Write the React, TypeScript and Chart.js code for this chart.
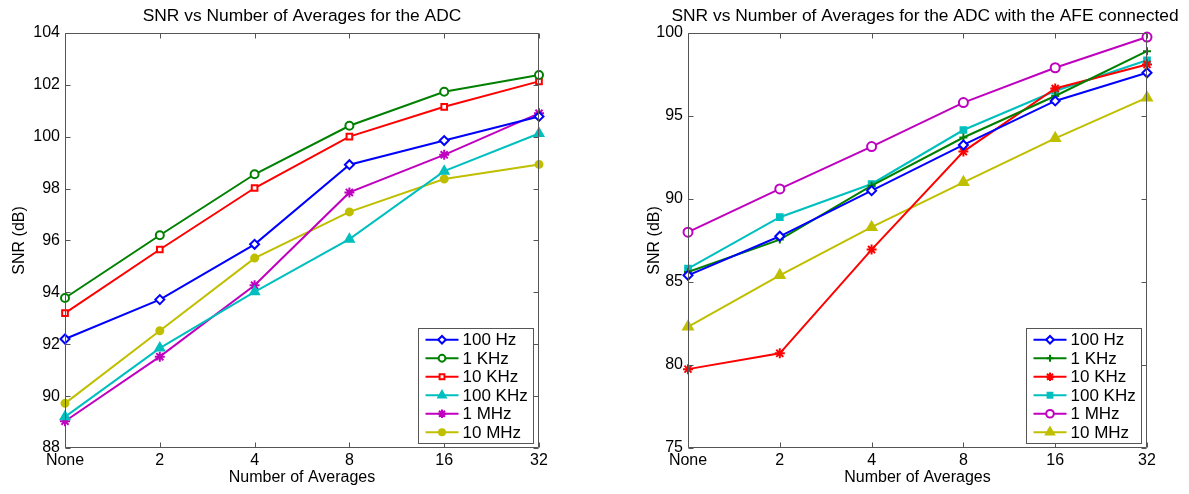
import React, { useEffect, useRef } from "react";
import { Chart, registerables } from "chart.js";
import { drawPoint } from "chart.js/helpers";

Chart.register(...registerables);

// ---------- data ----------
const categories = ["None", "2", "4", "8", "16", "32"];
const seriesNames = ["100 Hz", "1 KHz", "10 KHz", "100 KHz", "1 MHz", "10 MHz"];

// Left: ADC alone
const adc100Hz = [92.2, 93.72, 95.85, 98.92, 99.85, 100.78];
const adc1KHz = [93.78, 96.2, 98.55, 100.42, 101.73, 102.38];
const adc10KHz = [93.2, 95.65, 98.02, 100.0, 101.15, 102.13];
const adc100KHz = [89.2, 91.85, 94.02, 96.05, 98.67, 100.12];
const adc1MHz = [89.03, 91.52, 94.27, 97.85, 99.3, 100.9];
const adc10MHz = [89.72, 92.52, 95.32, 97.1, 98.37, 98.93];

// Right: ADC with AFE connected
const afe100Hz = [85.4, 87.75, 90.5, 93.25, 95.9, 97.6];
const afe1KHz = [85.6, 87.55, 90.8, 93.7, 96.2, 98.9];
const afe10KHz = [79.75, 80.7, 86.95, 92.85, 96.65, 98.1];
const afe100KHz = [85.8, 88.9, 90.9, 94.15, 96.5, 98.35];
const afe1MHz = [88.0, 90.6, 93.15, 95.8, 97.9, 99.75];
const afe10MHz = [82.3, 85.4, 88.3, 91.0, 93.65, 96.1];

const leftYMin = 88;
const leftYMax = 104;
const leftYStep = 2;
const rightYMin = 75;
const rightYMax = 100;
const rightYStep = 5;

const leftTitle = "SNR vs Number of Averages for the ADC";
const rightTitle = "SNR vs Number of Averages for the ADC with the AFE connected";
const xTitle = "Number of Averages";
const yTitle = "SNR (dB)";

// ---------- styles ----------
const FONT = "'Liberation Sans', Arial, Helvetica, sans-serif";
const BLUE = "#0000ff";
const GREEN = "#008000";
const RED = "#ff0000";
const CYAN = "#00bfbf";
const MAGENTA = "#bf00bf";
const YELLOW = "#bfbf00";
const FRAME = "#555555";

type Marker = { style: string; radius: number; fill: boolean };

const seriesColors = [BLUE, GREEN, RED, CYAN, MAGENTA, YELLOW];
const leftMarkers: Marker[] = [
  { style: "rectRot", radius: 4.5, fill: false },
  { style: "circle", radius: 4, fill: false },
  { style: "rect", radius: 4, fill: false },
  { style: "triangle", radius: 5, fill: true },
  { style: "star", radius: 5, fill: true },
  { style: "circle", radius: 3.5, fill: true },
];
const rightMarkers: Marker[] = [
  { style: "rectRot", radius: 4.5, fill: false },
  { style: "cross", radius: 4, fill: true },
  { style: "star", radius: 5, fill: true },
  { style: "rect", radius: 4, fill: true },
  { style: "circle", radius: 4.5, fill: false },
  { style: "triangle", radius: 5.5, fill: true },
];

const framePlugin = {
  id: "matlabFrame",
  afterDraw(chart: any) {
    const ctx = chart.ctx as CanvasRenderingContext2D;
    const { left, right, top, bottom } = chart.chartArea;
    const L = Math.round(left) + 0.5;
    const R = Math.round(right) - 0.5;
    const T = Math.round(top) + 0.5;
    const B = Math.round(bottom) - 0.5;
    const tl = 5;
    ctx.save();
    ctx.strokeStyle = FRAME;
    ctx.lineWidth = 1;
    ctx.beginPath();
    ctx.rect(L, T, R - L, B - T);
    const ys = chart.scales.y;
    ys.ticks.forEach((t: any) => {
      const y = Math.round(ys.getPixelForValue(t.value)) + 0.5;
      ctx.moveTo(L, y);
      ctx.lineTo(L + tl, y);
      ctx.moveTo(R, y);
      ctx.lineTo(R - tl, y);
    });
    const xs = chart.scales.x;
    xs.ticks.forEach((_t: any, i: number) => {
      const x = Math.round(xs.getPixelForTick(i)) + 0.5;
      ctx.moveTo(x, B);
      ctx.lineTo(x, B - tl);
      ctx.moveTo(x, T);
      ctx.lineTo(x, T + tl);
    });
    ctx.stroke();

    // legend box (lower right, inside axes)
    const dsets = chart.data.datasets;
    ctx.font = `17px ${FONT}`;
    let maxW = 0;
    dsets.forEach((d: any) => {
      maxW = Math.max(maxW, ctx.measureText(d.label).width);
    });
    const rowH = 18.5;
    const boxW = Math.round(7 + 33 + 4 + maxW + 6);
    const boxH = Math.round(dsets.length * rowH + 4);
    const x0 = Math.round(right) - 6 - boxW + 0.5;
    const y0 = Math.round(bottom) - 5 - boxH + 0.5;
    ctx.fillStyle = "#ffffff";
    ctx.fillRect(x0, y0, boxW, boxH);
    ctx.strokeStyle = FRAME;
    ctx.strokeRect(x0, y0, boxW, boxH);
    dsets.forEach((d: any, i: number) => {
      const y = y0 + 2 + rowH * (i + 0.5);
      ctx.strokeStyle = d.borderColor;
      ctx.lineWidth = 2;
      ctx.beginPath();
      ctx.moveTo(x0 + 7, y);
      ctx.lineTo(x0 + 40, y);
      ctx.stroke();
      ctx.fillStyle = d.pointBackgroundColor;
      ctx.strokeStyle = d.borderColor;
      ctx.lineWidth = d.pointBorderWidth;
      drawPoint(ctx, { pointStyle: d.pointStyle, radius: d.pointRadius * 0.85, borderWidth: d.pointBorderWidth, rotation: 0 } as any, x0 + 23.5, y);
      ctx.fillStyle = "#000000";
      ctx.textAlign = "left";
      ctx.textBaseline = "middle";
      ctx.fillText(d.label, x0 + 44, y + 1);
    });
    ctx.restore();
  },
};

function makeDatasets(values: number[][], markers: Marker[]) {
  return values.map((v, i) => ({
    label: seriesNames[i],
    data: v,
    borderColor: seriesColors[i],
    backgroundColor: seriesColors[i],
    borderWidth: 2,
    pointStyle: markers[i].style,
    pointRadius: markers[i].radius,
    pointBorderWidth: 2,
    pointBorderColor: seriesColors[i],
    pointBackgroundColor: markers[i].fill ? seriesColors[i] : "#ffffff",
    tension: 0,
    clip: false as any,
  }));
}

function buildConfig(opts: {
  title: string;
  values: number[][];
  markers: Marker[];
  yMin: number;
  yMax: number;
  yStep: number;
  rightSpace: number;
  yAxisWidth: number;
  yTitlePad: number;
}): any {
  return {
    type: "line",
    data: {
      labels: categories,
      datasets: makeDatasets(opts.values, opts.markers),
    },
    options: {
      animation: false,
      responsive: false,
      events: [],
      layout: { padding: 0 },
      plugins: {
        legend: { display: false },
        tooltip: { enabled: false },
        title: {
          display: true,
          text: opts.title,
          color: "#000",
          font: { family: FONT, size: 17.4, weight: "normal", lineHeight: 1.2 },
          padding: { top: 6, bottom: 6 },
        },
      },
      scales: {
        x: {
          type: "category",
          offset: false,
          grid: { display: false, drawTicks: false },
          border: { display: false },
          ticks: { color: "#000", font: { family: FONT, size: 16 }, padding: 3, maxRotation: 0, autoSkip: false },
          title: {
            display: true,
            text: xTitle,
            color: "#000",
            font: { family: FONT, size: 16, lineHeight: 1.2 },
            padding: { top: 0, bottom: 7 },
          },
          afterFit: (s: any) => {
            s.height = 46;
          },
        },
        y: {
          min: opts.yMin,
          max: opts.yMax,
          grid: { display: false, drawTicks: false },
          border: { display: false },
          ticks: { stepSize: opts.yStep, color: "#000", font: { family: FONT, size: 16 }, padding: 5 },
          title: {
            display: true,
            text: yTitle,
            color: "#000",
            font: { family: FONT, size: 16, lineHeight: 1.2 },
            padding: { top: opts.yTitlePad, bottom: 0 },
          },
          afterFit: (s: any) => {
            s.width = opts.yAxisWidth;
          },
        },
        // empty spacer on the right so the title centres over the axes box
        yRight: {
          position: "right",
          min: opts.yMin,
          max: opts.yMax,
          grid: { display: false, drawTicks: false },
          border: { display: false },
          ticks: { display: false },
          afterFit: (s: any) => {
            s.width = opts.rightSpace;
          },
        },
      },
    },
    plugins: [framePlugin],
  };
}

function ChartPanel(props: { cfg: any; left: number; width: number }) {
  const ref = useRef<HTMLCanvasElement | null>(null);
  useEffect(() => {
    if (!ref.current) return;
    const chart = new Chart(ref.current, props.cfg);
    return () => chart.destroy();
  }, []);
  return (
    <canvas
      ref={ref}
      width={props.width}
      height={494}
      style={{ position: "absolute", left: props.left, top: 0, width: props.width, height: 494 }}
    />
  );
}

export default function App() {
  // left canvas: 0..604, plot 65..539
  const leftCfg = buildConfig({
    title: leftTitle,
    values: [adc100Hz, adc1KHz, adc10KHz, adc100KHz, adc1MHz, adc10MHz],
    markers: leftMarkers,
    yMin: leftYMin,
    yMax: leftYMax,
    yStep: leftYStep,
    rightSpace: 65,
    yAxisWidth: 65,
    yTitlePad: 10,
  });
  // right canvas: 595..1255, plot 688..1147
  const rightCfg = buildConfig({
    title: rightTitle,
    values: [afe100Hz, afe1KHz, afe10KHz, afe100KHz, afe1MHz, afe10MHz],
    markers: rightMarkers,
    yMin: rightYMin,
    yMax: rightYMax,
    yStep: rightYStep,
    rightSpace: 108,
    yAxisWidth: 93,
    yTitlePad: 50,
  });
  return (
    <div style={{ position: "absolute", left: 0, top: 0, width: 1189, height: 494, background: "#fff", overflow: "hidden" }}>
      <ChartPanel cfg={leftCfg} left={0} width={604} />
      <ChartPanel cfg={rightCfg} left={595} width={660} />
    </div>
  );
}
